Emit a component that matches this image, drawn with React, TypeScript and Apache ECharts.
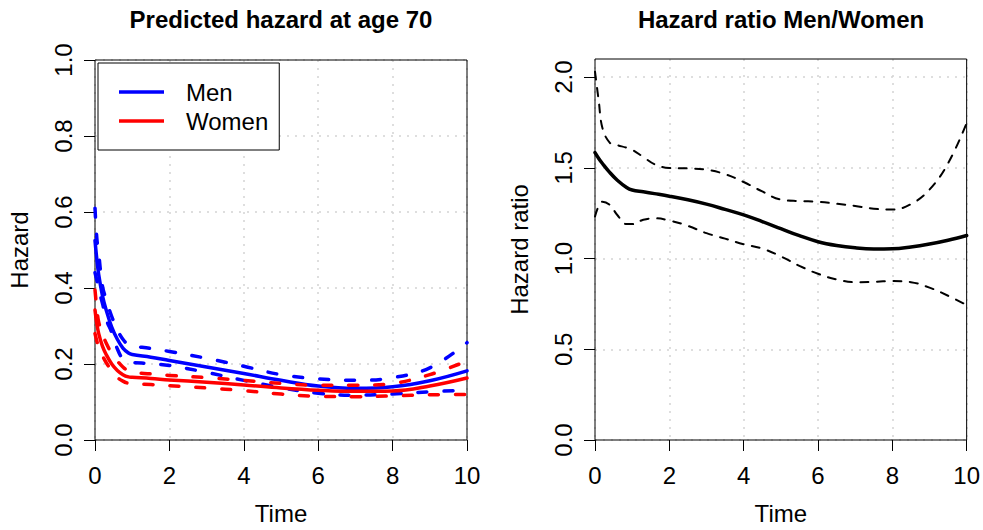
import React, { useEffect, useRef } from "react";
import * as echarts from "echarts";

const FONT = "'Liberation Sans', Arial, Helvetica, sans-serif";

// Left panel: predicted hazard at age 70
const hazTime = [0, 0.05, 0.1, 0.2, 0.3, 0.45, 0.6, 0.75, 0.9, 1.0, 1.5, 2, 3, 4, 5, 6, 7, 8, 9, 10];
const menHaz = [0.525, 0.475, 0.435, 0.38, 0.342, 0.297, 0.265, 0.242, 0.229, 0.225, 0.218, 0.209, 0.192, 0.175, 0.157, 0.142, 0.136, 0.14, 0.156, 0.182];
const menUpper = [0.61, 0.53, 0.49, 0.405, 0.37, 0.325, 0.29, 0.265, 0.25, 0.247, 0.241, 0.233, 0.215, 0.194, 0.172, 0.161, 0.157, 0.164, 0.19, 0.256];
const menLower = [0.44, 0.42, 0.395, 0.36, 0.318, 0.283, 0.24, 0.213, 0.205, 0.204, 0.201, 0.196, 0.178, 0.157, 0.138, 0.123, 0.118, 0.121, 0.127, 0.131];
const womenHaz = [0.342, 0.305, 0.28, 0.247, 0.225, 0.2, 0.183, 0.172, 0.166, 0.165, 0.162, 0.158, 0.152, 0.145, 0.137, 0.131, 0.128, 0.129, 0.142, 0.163];
const womenUpper = [0.395, 0.345, 0.31, 0.28, 0.255, 0.228, 0.208, 0.192, 0.181, 0.178, 0.174, 0.17, 0.164, 0.157, 0.149, 0.144, 0.144, 0.149, 0.172, 0.208];
const womenLower = [0.28, 0.26, 0.243, 0.222, 0.204, 0.182, 0.165, 0.155, 0.149, 0.148, 0.146, 0.143, 0.137, 0.13, 0.121, 0.115, 0.114, 0.116, 0.119, 0.12];

// Right panel: hazard ratio Men/Women
const hrTime = [0, 0.1, 0.2, 0.4, 0.6, 0.85, 1.0, 1.3, 1.6, 2, 2.5, 3, 3.5, 4, 4.5, 5, 5.5, 6, 6.5, 7, 7.5, 8, 8.5, 9, 9.5, 10];
const hrFit = [1.584, 1.552, 1.524, 1.474, 1.432, 1.392, 1.378, 1.368, 1.358, 1.344, 1.324, 1.3, 1.271, 1.241, 1.204, 1.165, 1.126, 1.093, 1.072, 1.059, 1.053, 1.054, 1.064, 1.08, 1.101, 1.127];
const hrUpper = [2.03, 1.87, 1.72, 1.638, 1.625, 1.611, 1.6, 1.56, 1.52, 1.499, 1.497, 1.49, 1.465, 1.422, 1.37, 1.325, 1.317, 1.313, 1.302, 1.29, 1.275, 1.27, 1.3, 1.38, 1.525, 1.747];
const hrLower = [1.232, 1.29, 1.313, 1.295, 1.24, 1.19, 1.19, 1.214, 1.222, 1.21, 1.18, 1.14, 1.11, 1.079, 1.055, 1.012, 0.96, 0.916, 0.885, 0.87, 0.872, 0.876, 0.87, 0.84, 0.795, 0.744];

const xTicks = [0, 2, 4, 6, 8, 10];
const hazTicks = [0, 0.2, 0.4, 0.6, 0.8, 1.0];
const hrTicks = [0, 0.5, 1.0, 1.5, 2.0];

const titles = ["Predicted hazard at age 70", "Hazard ratio Men/Women"];
const xName = "Time";
const yNames = ["Hazard", "Hazard ratio"];
const legendNames = ["Men", "Women"];

const BLUE = "#0000ff";
const RED = "#ff0000";

function pairs(xs: number[], ys: number[]) {
  return xs.map((x, i) => [x, ys[i]]);
}

const gridLine = { show: true, lineStyle: { color: "#d3d3d3", width: 1.5, type: [2, 6] as any } };

function xAxis(gridIndex: number) {
  return {
    type: "value",
    gridIndex,
    min: 0,
    max: 10,
    interval: 2,
    name: xName,
    nameLocation: "middle",
    nameGap: 61,
    nameTextStyle: { fontSize: 24, color: "#000", fontFamily: FONT },
    axisLine: { show: false },
    axisTick: { show: true, length: 11, lineStyle: { color: "#000", width: 1 } },
    axisLabel: { fontSize: 24, color: "#000", fontFamily: FONT, margin: 23, customValues: xTicks },
    splitLine: gridLine,
  };
}

function yAxis(gridIndex: number, max: number, interval: number, ticks: number[], name: string) {
  return {
    type: "value",
    gridIndex,
    min: 0,
    max,
    interval,
    name,
    nameLocation: "middle",
    nameGap: 64,
    nameRotate: 90,
    nameTextStyle: { fontSize: 24, color: "#000", fontFamily: FONT },
    axisLine: { show: false },
    axisTick: { show: true, length: 11, lineStyle: { color: "#000", width: 1 }, customValues: ticks },
    axisLabel: {
      fontSize: 24,
      color: "#000",
      fontFamily: FONT,
      rotate: 90,
      margin: 20,
      customValues: ticks,
      formatter: (v: number) => v.toFixed(1),
    },
    splitLine: gridLine,
  };
}

function line(name: string, xi: number, xs: number[], ys: number[], color: string, width: number, dash: any) {
  return {
    type: "line",
    name,
    xAxisIndex: xi,
    yAxisIndex: xi,
    data: pairs(xs, ys),
    smooth: 0.4,
    symbol: "none",
    showSymbol: false,
    lineStyle: { color, width, type: dash, cap: "round", join: "round" },
    itemStyle: { color },
  };
}

export default function App() {
  const ref = useRef<HTMLDivElement>(null);

  useEffect(() => {
    if (!ref.current) return;
    const chart = echarts.init(ref.current, null, { renderer: "svg" });
    const leftDash = [9, 17];
    const rightDash = [8, 8.5];
    chart.setOption({
      animation: false,
      backgroundColor: "#fff",
      textStyle: { fontFamily: FONT },
      grid: [
        { left: 95, top: 60, width: 372, height: 387, show: true, z: 3, borderColor: "#000", borderWidth: 1, backgroundColor: "transparent" },
        { left: 595, top: 59, width: 372, height: 388, show: true, z: 3, borderColor: "#000", borderWidth: 1, backgroundColor: "transparent" },
      ],
      xAxis: [xAxis(0), xAxis(1)],
      yAxis: [yAxis(0, 1, 0.2, hazTicks, yNames[0]), yAxis(1, 2.1, 0.5, hrTicks, yNames[1])],
      legend: {
        data: legendNames,
        orient: "vertical",
        left: 98,
        top: 63,
        z: 10,
        padding: [17, 11, 17, 21],
        itemGap: 5,
        itemWidth: 45,
        itemHeight: 3.5,
        icon: "rect",
        backgroundColor: "#fff",
        borderColor: "#000",
        borderWidth: 1,
        borderRadius: 0,
        selectedMode: false,
        textStyle: { fontSize: 24, color: "#000", fontFamily: FONT, padding: [0, 0, 0, 17] },
      },
      graphic: [
        { type: "text", x: 281, y: 19.5, style: { text: titles[0], font: `bold 24px ${FONT}`, fill: "#000", textAlign: "center", textVerticalAlign: "middle" } },
        { type: "text", x: 781, y: 19.5, style: { text: titles[1], font: `bold 24px ${FONT}`, fill: "#000", textAlign: "center", textVerticalAlign: "middle" } },
      ],
      series: [
        line("Men", 0, hazTime, menHaz, BLUE, 3.5, "solid"),
        line("Men upper", 0, hazTime, menUpper, BLUE, 3.5, leftDash),
        line("Men lower", 0, hazTime, menLower, BLUE, 3.5, leftDash),
        line("Women", 0, hazTime, womenHaz, RED, 3.5, "solid"),
        line("Women upper", 0, hazTime, womenUpper, RED, 3.5, leftDash),
        line("Women lower", 0, hazTime, womenLower, RED, 3.5, leftDash),
        line("Hazard ratio", 1, hrTime, hrFit, "#000", 3.5, "solid"),
        line("HR upper", 1, hrTime, hrUpper, "#000", 2, rightDash),
        line("HR lower", 1, hrTime, hrLower, "#000", 2, rightDash),
      ],
    });
    return () => chart.dispose();
  }, []);

  return <div ref={ref} style={{ position: "fixed", left: 0, top: 0, width: 983, height: 530, background: "#fff" }} />;
}
